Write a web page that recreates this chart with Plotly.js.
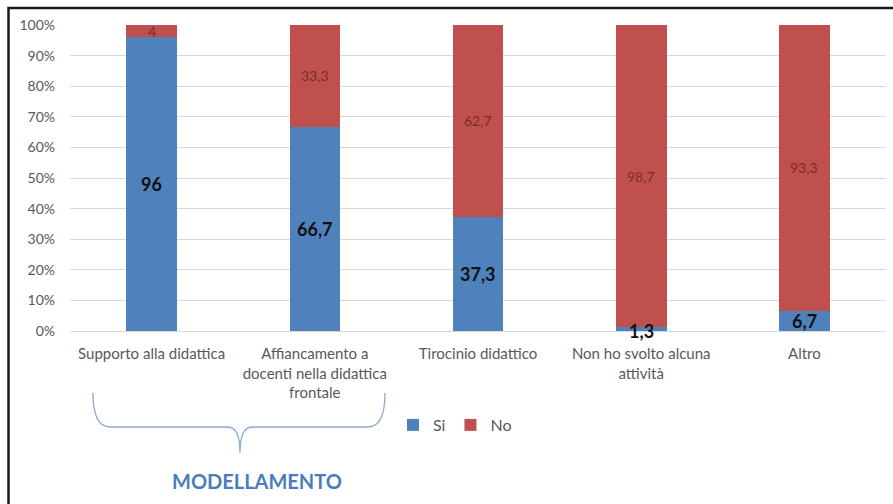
<!DOCTYPE html>
<html>
<head>
<meta charset="utf-8">
<script src="https://cdn.plot.ly/plotly-3.0.1.min.js"></script>
<style>
html,body{margin:0;padding:0;background:#fff;}
#chart{width:893px;height:504px;}
</style>
</head>
<body>
<div id="chart"></div>
<script>
var categories = [
  "Supporto alla didattica",
  "Affiancamento a<br>docenti nella didattica<br>frontale",
  "Tirocinio didattico",
  "Non ho svolto alcuna<br>attività",
  "Altro"
];
var siValues = [96, 66.7, 37.3, 1.3, 6.7];
var noValues = [4, 33.3, 62.7, 98.7, 93.3];
var seriesNames = ["Si", "No"];
var yTickValues = [0, 10, 20, 30, 40, 50, 60, 70, 80, 90, 100];
var yTickLabels = ["0%", "10%", "20%", "30%", "40%", "50%", "60%", "70%", "80%", "90%", "100%"];
var groupLabel = "MODELLAMENTO";

var W = 893, H = 504;
var M = {l: 70, r: 7, t: 25, b: 173};
var pw = W - M.l - M.r, ph = H - M.t - M.b;
function px(x) { return (x - M.l) / pw; }
function py(y) { return (H - M.b - y) / ph; }

function fmt(v) { return String(v).replace('.', ','); }

var blue = '#4F81BD', red = '#C0504D';
var fontFam = 'Lato, "Open Sans", sans-serif';

var traces = [
  {type: 'bar', name: seriesNames[0], x: categories, y: siValues,
   marker: {color: blue}, hoverinfo: 'none'},
  {type: 'bar', name: seriesNames[1], x: categories, y: noValues,
   marker: {color: red}, hoverinfo: 'none'}
];

var annotations = [];
categories.forEach(function (c, i) {
  annotations.push({x: c, y: siValues[i] / 2, xref: 'x', yref: 'y',
    text: '<b>' + fmt(siValues[i]) + '</b>', showarrow: false,
    font: {family: fontFam, size: 18, color: '#111111'}, yshift: i === 3 ? -2 : 0});
  annotations.push({x: c, y: siValues[i] + noValues[i] / 2, xref: 'x', yref: 'y',
    text: fmt(noValues[i]), showarrow: false,
    font: {family: fontFam, size: 14, color: '#7B2C2A'}});
});
annotations.push({x: px(257), y: py(481), xref: 'paper', yref: 'paper',
  xanchor: 'center', yanchor: 'middle',
  text: '<b>' + groupLabel + '</b>', showarrow: false,
  font: {family: fontFam, size: 20, color: '#4A7EBB'}});

function P(x, y) { return px(x) + ',' + py(y); }
var bracePath = 'M' + P(93, 393) + ' Q' + P(93, 427) + ' ' + P(110, 427) +
  ' L' + P(228, 427) + ' Q' + P(240, 427) + ' ' + P(240, 453) +
  ' Q' + P(240, 427) + ' ' + P(252, 427) + ' L' + P(368, 427) +
  ' Q' + P(385, 427) + ' ' + P(385, 393);
var framePath = 'M' + P(8.5, 504) + ' L' + P(8.5, 8) + ' L' + P(893, 8);

var layout = {
  width: W, height: H,
  margin: M,
  paper_bgcolor: '#ffffff', plot_bgcolor: '#ffffff',
  barmode: 'stack',
  bargap: 0.69,
  showlegend: true,
  legend: {orientation: 'h', x: px(455), y: py(425), xanchor: 'center', yanchor: 'middle',
    font: {family: fontFam, size: 16, color: '#595959'}, itemwidth: 30, traceorder: 'normal'},
  font: {family: fontFam, color: '#595959'},
  xaxis: {tickfont: {family: fontFam, size: 15, color: '#595959'}, showgrid: false,
    showline: false, ticks: '', ticklabelstandoff: 12, fixedrange: true},
  yaxis: {range: [0, 100], tickmode: 'array', tickvals: yTickValues, ticktext: yTickLabels,
    tickfont: {family: fontFam, size: 14, color: '#595959'},
    gridcolor: '#D9D9D9', gridwidth: 1, zeroline: true, zerolinecolor: '#D9D9D9',
    showline: false, ticks: '', ticklabelstandoff: 14, fixedrange: true},
  annotations: annotations,
  shapes: [
    {type: 'path', xref: 'paper', yref: 'paper', path: bracePath,
     line: {color: '#8DA9CC', width: 1.3}},
    {type: 'path', xref: 'paper', yref: 'paper', path: framePath,
     line: {color: '#1a1a1a', width: 2.5}}
  ]
};

Plotly.newPlot('chart', traces, layout, {displayModeBar: false, staticPlot: true});
</script>
</body>
</html>
